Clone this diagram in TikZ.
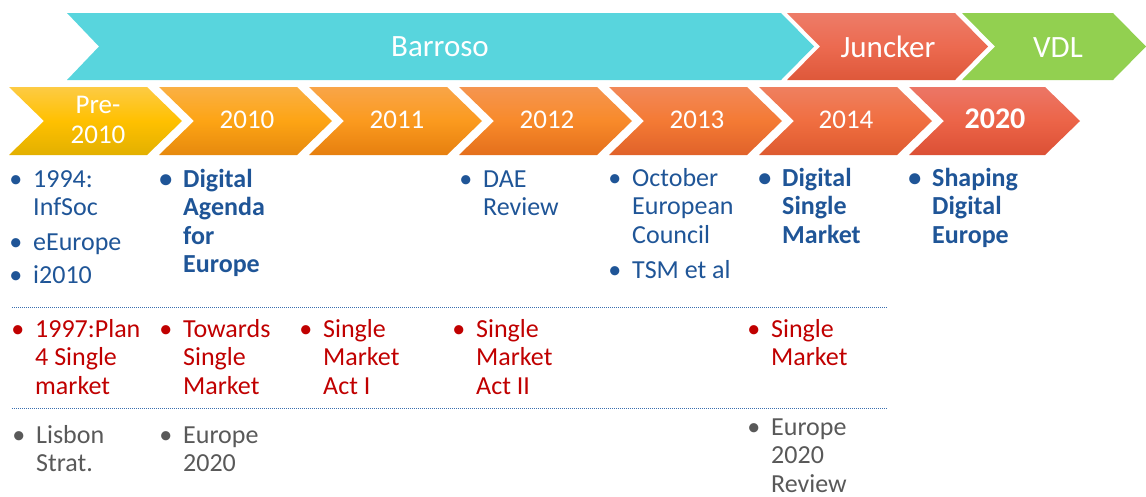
\documentclass[tikz,border=0pt]{standalone}
\usepackage{fontspec}
\setmainfont{Carlito}

\definecolor{barrosocyan}{HTML}{58D5DD}
\definecolor{vdlgreen}{HTML}{92D050}
\definecolor{itemblue}{HTML}{1F5597}
\definecolor{itemred}{HTML}{C00000}
\definecolor{itemgrey}{HTML}{595959}
\definecolor{rulecol}{HTML}{3A6FB0}

\tikzset{
    yearlabel/.style={text=white, anchor=base, align=center, inner sep=0pt, font=\fontsize{27}{30}\selectfont},
    termlabel/.style={yearlabel, font=\fontsize{31}{34}\selectfont},
    blueitem/.style={anchor=base west, inner sep=0pt, text=itemblue, font=\fontsize{26}{28.5}\selectfont},
    keyitem/.style={blueitem, font=\fontsize{26}{28.5}\selectfont\bfseries},
    reditem/.style={blueitem, text=itemred},
    greyitem/.style={blueitem, text=itemgrey},
    rowrule/.style={draw=rulecol, line width=1pt, dash pattern=on 1pt off 1pt},
}
\newcommand{\bul}{\llap{\textbullet\hspace{11pt}}}
\newcommand{\lines}[1]{\begin{tabular}[t]{@{}l@{}}#1\end{tabular}}

\begin{document}
\begin{tikzpicture}[x=1pt, y=-1pt]
    \useasboundingbox (0,0) rectangle (1146,496);

    % First the commissions on top
    \fill[barrosocyan] (67,13) -- (781,13) -- (814,46.5) -- (781,80) -- (67,80) -- (99,46.5) -- cycle;
    \shade[top color={rgb,255:red,237;green,124;blue,104}, bottom color={rgb,255:red,222;green,88;blue,58}, middle color={rgb,255:red,236;green,106;blue,80}]
        (787,13) -- (955,13) -- (988,46.5) -- (955,80) -- (787,80) -- (820,46.5) -- cycle;
    \fill[vdlgreen] (962,13) -- (1113,13) -- (1146,46.5) -- (1113,80) -- (962,80) -- (995,46.5) -- cycle;
    \node[termlabel] (barroso) at (440,56) {Barroso};
    \node[termlabel] (juncker) at (888,57) {Juncker};
    \node[termlabel] (vdl) at (1058,57) {VDL};

    % Now the years
    \shade[top color={rgb,255:red,253;green,203;blue,68}, bottom color={rgb,255:red,226;green,176;blue,0}, middle color={rgb,255:red,255;green,192;blue,0}]
        (9,87) -- (147,87) -- (182,121) -- (147,155) -- (9,155) -- (44,121) -- cycle;
    \shade[top color={rgb,255:red,250;green,176;blue,68}, bottom color={rgb,255:red,230;green,137;blue,14}, middle color={rgb,255:red,253;green,164;blue,20}]
        (159,87) -- (297,87) -- (332,121) -- (297,155) -- (159,155) -- (194,121) -- cycle;
    \shade[top color={rgb,255:red,249;green,165;blue,72}, bottom color={rgb,255:red,230;green,127;blue,15}, middle color={rgb,255:red,251;green,154;blue,30}]
        (309,87) -- (447,87) -- (482,121) -- (447,155) -- (309,155) -- (344,121) -- cycle;
    \shade[top color={rgb,255:red,245;green,149;blue,80}, bottom color={rgb,255:red,228;green,111;blue,28}, middle color={rgb,255:red,248;green,138;blue,42}]
        (459,87) -- (597,87) -- (632,121) -- (597,155) -- (459,155) -- (494,121) -- cycle;
    \shade[top color={rgb,255:red,242;green,136;blue,88}, bottom color={rgb,255:red,224;green,98;blue,42}, middle color={rgb,255:red,244;green,122;blue,52}]
        (609,87) -- (747,87) -- (782,121) -- (747,155) -- (609,155) -- (644,121) -- cycle;
    \shade[top color={rgb,255:red,239;green,128;blue,96}, bottom color={rgb,255:red,221;green,90;blue,48}, middle color={rgb,255:red,240;green,110;blue,64}]
        (759,87) -- (897,87) -- (932,121) -- (897,155) -- (759,155) -- (794,121) -- cycle;
    \shade[top color={rgb,255:red,236;green,118;blue,102}, bottom color={rgb,255:red,219;green,80;blue,53}, middle color={rgb,255:red,236;green,100;blue,72}]
        (909,87) -- (1045,87) -- (1080,121) -- (1045,155) -- (909,155) -- (944,121) -- cycle;
    \node[yearlabel] (pre) at (98,143) {Pre-\\2010};
    \node[yearlabel] (y2010) at (247,128) {2010};
    \node[yearlabel] (y2011) at (397,128) {2011};
    \node[yearlabel] (y2012) at (547,128) {2012};
    \node[yearlabel] (y2013) at (697,128) {2013};
    \node[yearlabel] (y2014) at (846,128) {2014};
    \node[yearlabel, font=\fontsize{30}{33}\selectfont\bfseries] (y2020) at (995,128) {2020};

    % Digital agenda row
    \node[blueitem] (infsoc) at (33,187) {\lines{\bul 1994:\\InfSoc}};
    \node[blueitem] (eeurope) at (33,250) {\lines{\bul eEurope}};
    \node[blueitem] (itwo) at (33,283) {\lines{\bul i2010}};
    \node[keyitem] (dae) at (183,187) {\lines{\bul Digital\\Agenda\\for\\Europe}};
    \node[blueitem] (daereview) at (483,187) {\lines{\bul DAE\\Review}};
    \node[blueitem] (council) at (632,186) {\lines{\bul October\\European\\Council}};
    \node[blueitem] (tsm) at (632,278) {\lines{\bul TSM et al}};
    \node[keyitem] (dsm) at (782,186) {\lines{\bul Digital\\Single\\Market}};
    \node[keyitem] (shaping) at (932,186) {\lines{\bul Shaping\\Digital\\Europe}};

    % Now the single market row
    \coordinate (ruleAw) at (12,307);
    \coordinate (ruleAe) at (888,307);
    \draw[rowrule] (ruleAw) -- (ruleAe);
    \node[reditem] (plan) at (35,337) {\lines{\bul 1997:Plan\\4 Single\\market}};
    \node[reditem] (towards) at (183,337) {\lines{\bul Towards\\Single\\Market}};
    \node[reditem] (smaone) at (323,337) {\lines{\bul Single\\Market\\Act I}};
    \node[reditem] (smatwo) at (476,337) {\lines{\bul Single\\Market\\Act II}};
    \node[reditem] (sm) at (771,337) {\lines{\bul Single\\Market}};

    % Now the strategy row
    \coordinate (ruleBw) at (12,408);
    \coordinate (ruleBe) at (888,408);
    \draw[rowrule] (ruleBw) -- (ruleBe);
    \node[greyitem] (lisbon) at (36,443) {\lines{\bul Lisbon\\Strat.}};
    \node[greyitem] (eutwenty) at (183,443) {\lines{\bul Europe\\2020}};
    \node[greyitem] (eureview) at (771,435) {\lines{\bul Europe\\2020\\Review}};

\end{tikzpicture}
\end{document}
